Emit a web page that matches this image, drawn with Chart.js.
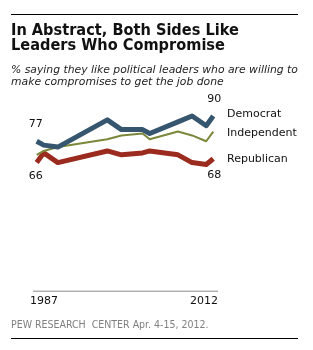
<!DOCTYPE html>
<html>
<head>
<meta charset="utf-8">
<script src="https://cdn.jsdelivr.net/npm/chart.js@4"></script>
<style>
  html, body { margin:0; padding:0; background:#fff; }
  #wrap { position:relative; width:313px; height:350px; overflow:hidden; }
  canvas { position:absolute; left:0; top:0; }
  .rule { position:absolute; left:11px; width:287px; height:1px; background:#000; }
  #title { position:absolute; left:11px; top:21.5px; font-family:"DejaVu Sans Condensed","DejaVu Sans", sans-serif; font-weight:bold; font-size:16.2px; line-height:15.5px; color:#111; white-space:nowrap; }
  #sub { position:absolute; left:11px; top:64px; font-family:"DejaVu Sans", sans-serif; font-style:italic; font-size:10.8px; line-height:11.5px; color:#222; white-space:nowrap; }
  #foot { position:absolute; left:11px; top:318px; font-family:"DejaVu Sans Condensed","DejaVu Sans", sans-serif; font-size:10.5px; color:#808080; white-space:pre; }
</style>
</head>
<body>
<div id="wrap">
  <canvas id="c" width="313" height="350"></canvas>
  <div class="rule" style="top:14px"></div>
  <div id="title">In Abstract, Both Sides Like<br>Leaders Who Compromise</div>
  <div id="sub">% saying they like political leaders who are willing to<br>make compromises to get the job done</div>
  <div id="foot">PEW RESEARCH  CENTER Apr. 4-15, 2012.</div>
  <div class="rule" style="top:338px"></div>
</div>
<script>
const years       = [1987, 1988, 1990, 1997, 1999, 2002, 2003, 2007, 2009, 2011, 2012];
const democrat    = [77, 75, 74, 88, 83, 83, 81, 87, 90, 85, 90];
const independent = [70, 72, 74, 78, 80, 81, 78, 82, 80, 77, 82];
const republican  = [66, 71, 66, 72, 70, 71, 72, 70, 66, 65, 68];
const seriesNames = ["Democrat", "Independent", "Republican"];
const axisLabels  = ["1987", "2012"];

const toPts = arr => years.map((y, i) => ({ x: y, y: arr[i] }));

const labelPlugin = {
  id: 'labels',
  afterDatasetsDraw(chart) {
    const ctx = chart.ctx;
    const ca = chart.chartArea;
    ctx.save();
    ctx.strokeStyle = '#8c8c8c';
    ctx.lineWidth = 1;
    ctx.beginPath();
    ctx.moveTo(ca.left, ca.bottom + 0.5);
    ctx.lineTo(ca.right, ca.bottom + 0.5);
    ctx.stroke();
    ctx.font = '11px "DejaVu Sans", sans-serif';
    ctx.fillStyle = '#111';
    ctx.textBaseline = 'middle';
    ctx.textAlign = 'left';
    ctx.fillText(axisLabels[0], ca.left - 3, ca.bottom + 10);
    ctx.textAlign = 'right';
    ctx.fillText(axisLabels[1], ca.right, ca.bottom + 10);

    const metas = [0, 1, 2].map(i => chart.getDatasetMeta(i).data);
    ctx.textAlign = 'center';
    const d0 = metas[0][0], dN = metas[0][metas[0].length - 1];
    const r0 = metas[2][0], rN = metas[2][metas[2].length - 1];
    ctx.fillText(String(democrat[0]), d0.x - 1, d0.y - 17);
    ctx.fillText(String(republican[0]), r0.x - 1, r0.y + 14);
    ctx.fillText(String(democrat[democrat.length - 1]), dN.x + 1, dN.y - 17);
    ctx.fillText(String(republican[republican.length - 1]), rN.x + 1, rN.y + 16);
    ctx.textAlign = 'left';
    const offs = [-2, 2, 0];
    metas.forEach((m, i) => {
      const p = m[m.length - 1];
      ctx.fillText(seriesNames[i], ca.right + 9, p.y + offs[i]);
    });
    ctx.restore();
  }
};

new Chart(document.getElementById('c'), {
  type: 'line',
  data: {
    datasets: [
      { label: seriesNames[0], data: toPts(democrat), borderColor: '#36556e', borderWidth: 5 },
      { label: seriesNames[1], data: toPts(independent), borderColor: '#7b873a', borderWidth: 2 },
      { label: seriesNames[2], data: toPts(republican), borderColor: '#9b2b1e', borderWidth: 5 }
    ]
  },
  options: {
    responsive: false,
    animation: false,
    devicePixelRatio: 1,
    layout: { padding: { left: 33, right: 95, top: 96.6, bottom: 59.3 } },
    elements: { point: { radius: 0 }, line: { tension: 0, borderJoinStyle: 'round', fill: false } },
    plugins: { legend: { display: false }, tooltip: { enabled: false } },
    scales: {
      x: { type: 'linear', min: 1986.48, max: 2012.67, display: false },
      y: { min: 0, max: 100, display: false }
    }
  },
  plugins: [labelPlugin]
});
</script>
</body>
</html>
